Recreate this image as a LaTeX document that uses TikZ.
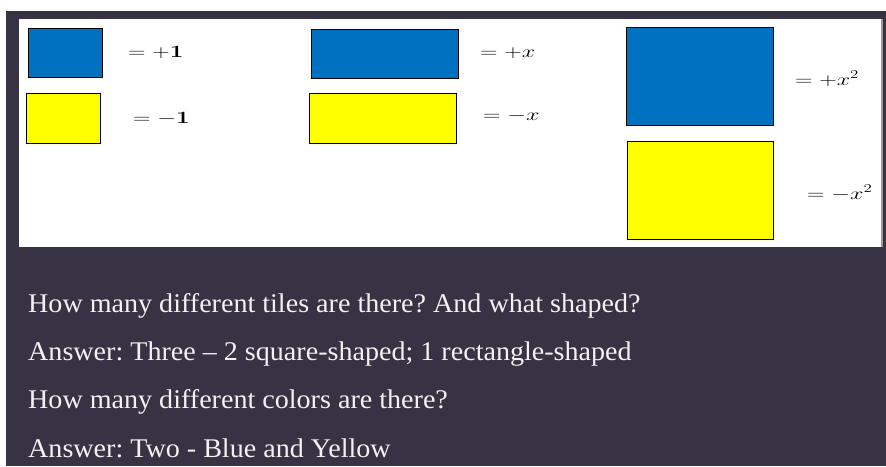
\documentclass[tikz,border=0pt]{standalone}
\usepackage[no-math]{fontspec}
\newfontfamily\tnr{Liberation Serif}
\definecolor{bgdark}{HTML}{373344}
\definecolor{tblue}{HTML}{0070C0}
\definecolor{tyellow}{HTML}{FFFF00}
\definecolor{txtwhite}{HTML}{F2F2F2}
\tikzset{
  tile/.style={draw=black, line width=1.3pt, inner sep=0pt, anchor=north west},
  bluetile/.style={tile, fill=tblue},
  yellowtile/.style={tile, fill=tyellow},
  lbl/.style={anchor=base west, inner sep=0pt, font=\fontsize{17}{20}\selectfont, text=black},
  qline/.style={anchor=base west, inner sep=0pt, text=txtwhite, font=\tnr\frenchspacing\fontsize{27}{32}\selectfont}
}
\newcommand{\wide}[1]{\scalebox{1.4}[1]{#1}}
\newcommand{\qwide}[1]{\scalebox{1.04}[1]{#1}}
\begin{document}
\begin{tikzpicture}[x=1pt,y=-1pt]
\useasboundingbox (0,0) rectangle (886,466);
\fill[white] (0,0) rectangle (886,466);
\fill[bgdark] (6,11) rectangle (886,466);
\fill[white] (19,19) rectangle (881,247);
\fill[black!40] (881,19) rectangle (883,247);
% tiles
\node[bluetile, minimum width=74pt, minimum height=49pt] (p1) at (28,28) {};
\node[yellowtile, minimum width=74pt, minimum height=50pt] (m1) at (26,93) {};
\node[bluetile, minimum width=147pt, minimum height=49pt] (px) at (311,29) {};
\node[yellowtile, minimum width=147pt, minimum height=50pt] (mx) at (309,93) {};
\node[bluetile, minimum width=147pt, minimum height=98pt] (px2) at (626,27) {};
\node[yellowtile, minimum width=146pt, minimum height=98pt] (mx2) at (627,141) {};
% labels
\node[lbl] (lp1) at (128,57) {\wide{$=\mathbf{+1}$}};
\node[lbl] (lm1) at (133,123) {\wide{$=\mathbf{-1}$}};
\node[lbl] (lpx) at (480,57) {\wide{$=+x$}};
\node[lbl] (lmx) at (483,120) {\wide{$=-x$}};
\node[lbl] (lpx2) at (795,85) {\wide{$=+x^{2}$}};
\node[lbl] (lmx2) at (807,199) {\wide{$=-x^{2}$}};
% question text
\node[qline] (q1) at (28,312) {\qwide{How many different tiles are there? And what shaped?}};
\node[qline] (a1) at (28,360) {\qwide{Answer: Three – 2 square-shaped; 1 rectangle-shaped}};
\node[qline] (q2) at (28,408) {\qwide{How many different colors are there?}};
\node[qline] (a2) at (28,457) {\qwide{Answer: Two - Blue and Yellow}};
\end{tikzpicture}
\end{document}
